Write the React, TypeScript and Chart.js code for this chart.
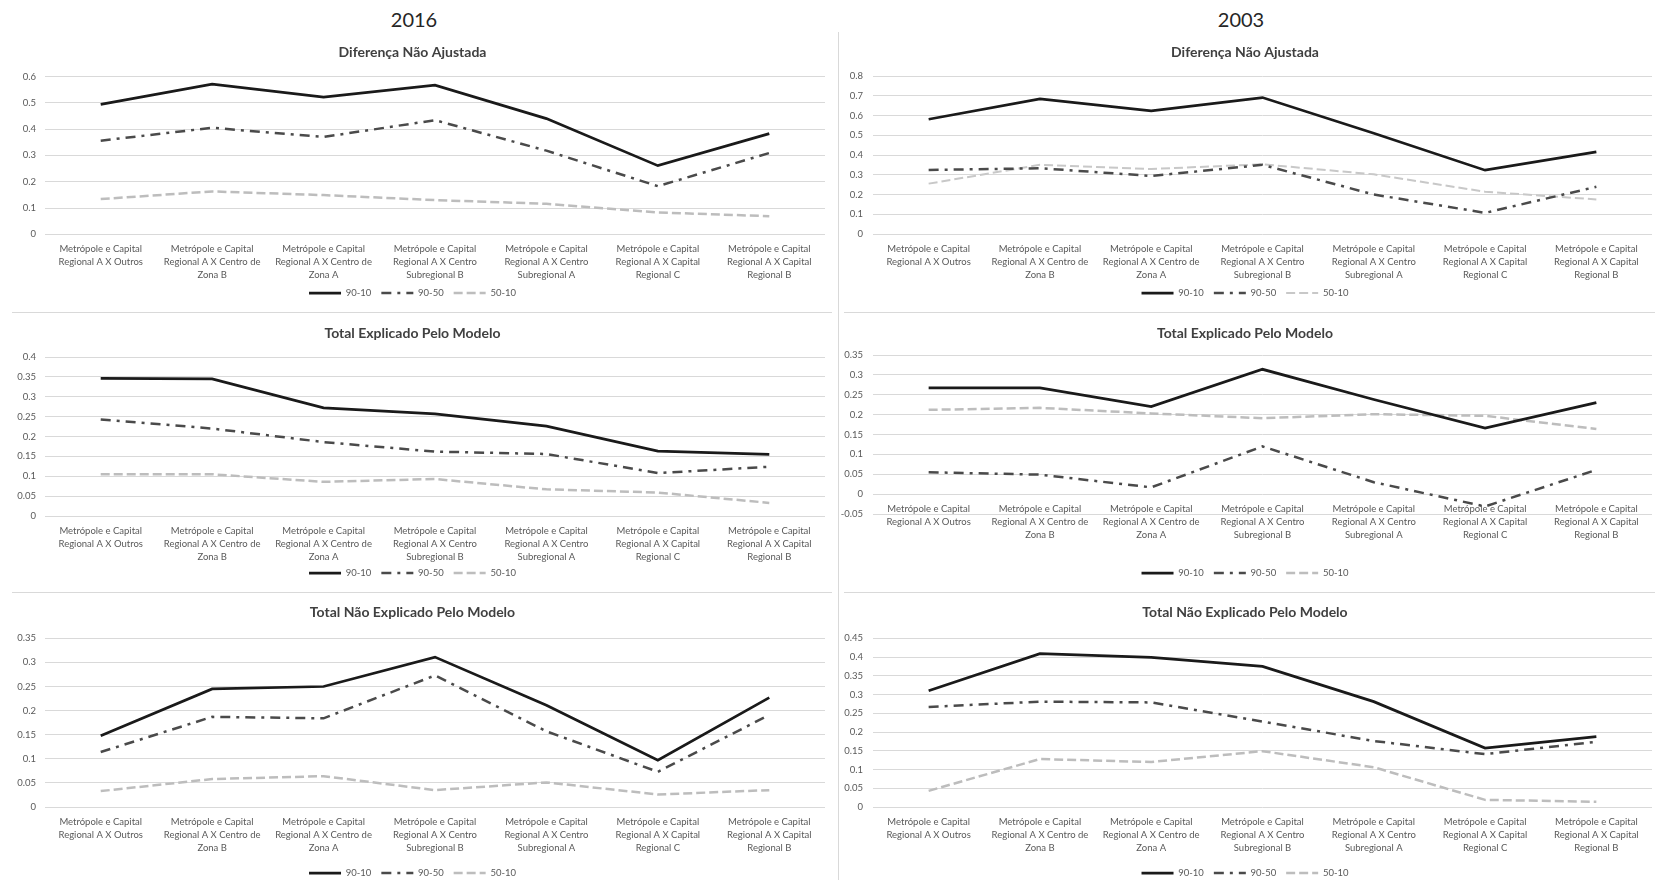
import React, { useEffect, useRef } from "react";
import { Chart, registerables } from "chart.js";
Chart.register(...registerables);

// ---------- data ----------
const categories: string[][] = [
  ["Metrópole e Capital", "Regional A X Outros"],
  ["Metrópole e Capital", "Regional A X Centro de", "Zona B"],
  ["Metrópole e Capital", "Regional A X Centro de", "Zona A"],
  ["Metrópole e Capital", "Regional A X Centro", "Subregional B"],
  ["Metrópole e Capital", "Regional A X Centro", "Subregional A"],
  ["Metrópole e Capital", "Regional A X Capital", "Regional C"],
  ["Metrópole e Capital", "Regional A X Capital", "Regional B"],
];
const seriesNames = ["90-10", "90-50", "50-10"];
const yearTitles = ["2016", "2003"];
const panelTitles = ["Diferença Não Ajustada", "Total Explicado Pelo Modelo", "Total Não Explicado Pelo Modelo"];

// 2016 - Diferença Não Ajustada
const s9010_2016_dif = [0.494, 0.571, 0.522, 0.567, 0.44, 0.261, 0.383];
const s9050_2016_dif = [0.356, 0.405, 0.37, 0.434, 0.318, 0.183, 0.309];
const s5010_2016_dif = [0.134, 0.163, 0.149, 0.13, 0.116, 0.083, 0.069];
// 2003 - Diferença Não Ajustada
const s9010_2003_dif = [0.581, 0.684, 0.623, 0.691, 0.51, 0.323, 0.416];
const s9050_2003_dif = [0.324, 0.333, 0.294, 0.35, 0.2, 0.107, 0.239];
const s5010_2003_dif = [0.255, 0.35, 0.329, 0.353, 0.302, 0.214, 0.175];
// 2016 - Total Explicado
const s9010_2016_exp = [0.346, 0.345, 0.272, 0.257, 0.226, 0.163, 0.155];
const s9050_2016_exp = [0.243, 0.22, 0.186, 0.162, 0.156, 0.108, 0.124];
const s5010_2016_exp = [0.105, 0.105, 0.086, 0.093, 0.067, 0.059, 0.033];
// 2003 - Total Explicado
const s9010_2003_exp = [0.267, 0.267, 0.22, 0.314, 0.238, 0.166, 0.23];
const s9050_2003_exp = [0.055, 0.049, 0.017, 0.12, 0.03, -0.031, 0.061];
const s5010_2003_exp = [0.212, 0.217, 0.203, 0.191, 0.201, 0.197, 0.164];
// 2016 - Total Não Explicado
const s9010_2016_nexp = [0.148, 0.245, 0.25, 0.311, 0.211, 0.097, 0.227];
const s9050_2016_nexp = [0.114, 0.187, 0.184, 0.273, 0.157, 0.073, 0.191];
const s5010_2016_nexp = [0.033, 0.058, 0.064, 0.035, 0.051, 0.026, 0.035];
// 2003 - Total Não Explicado
const s9010_2003_nexp = [0.31, 0.409, 0.399, 0.375, 0.281, 0.157, 0.188];
const s9050_2003_nexp = [0.267, 0.281, 0.279, 0.228, 0.176, 0.141, 0.174];
const s5010_2003_nexp = [0.043, 0.128, 0.12, 0.149, 0.106, 0.019, 0.014];

// y axis ranges: [min, max, step]
const yRange_2016_dif = [0, 0.6, 0.1];
const yRange_2003_dif = [0, 0.8, 0.1];
const yRange_2016_exp = [0, 0.4, 0.05];
const yRange_2003_exp = [-0.05, 0.35, 0.05];
const yRange_2016_nexp = [0, 0.35, 0.05];
const yRange_2003_nexp = [0, 0.45, 0.05];

// ---------- layout / style ----------
const FONT = "Lato, 'Open Sans', sans-serif";
const cols = [
  { left: 0, width: 838, yWidth: 45, padRight: 13, tickPad: 9 },
  { left: 838, width: 817, yWidth: 35, padRight: 3, tickPad: 10 },
];
const rows = [
  { top: 30, height: 282, tPadTop: 13.9, tPadBottom: 15.8, spacer: 44, padBottom: 4.2 },
  { top: 312, height: 280, tPadTop: 12.6, tPadBottom: 15.6, spacer: 42.25, padBottom: 4.25 },
  { top: 592, height: 296, tPadTop: 11.9, tPadBottom: 17.6, spacer: 51.25, padBottom: 0.25 },
];

type PanelProps = {
  title: string;
  s1: number[];
  s2: number[];
  s3: number[];
  yRange: number[];
  col: number;
  row: number;
  spacerAdj?: number;
  tPadAdj?: number;
  lightTop?: boolean;
};

function Panel(p: PanelProps) {
  const ref = useRef<HTMLCanvasElement>(null);
  const c = cols[p.col];
  const r = rows[p.row];
  useEffect(() => {
    const tickFont = { family: FONT, size: 9.5 };
    const spacer = r.spacer + (p.spacerAdj || 0);
    const chart = new Chart(ref.current as HTMLCanvasElement, {
      type: "line",
      data: {
        labels: categories,
        datasets: [
          {
            label: seriesNames[0],
            data: p.s1,
            borderColor: "#1a1a1a",
            backgroundColor: "#1a1a1a",
            borderWidth: 2.75,
            pointRadius: 0,
            tension: 0,
            fill: false,
          },
          {
            label: seriesNames[1],
            data: p.s2,
            borderColor: "#4a4a4a",
            backgroundColor: "#4a4a4a",
            borderWidth: 2.5,
            borderDash: [10, 6, 3, 6],
            pointRadius: 0,
            tension: 0,
            fill: false,
          },
          {
            label: seriesNames[2],
            data: p.s3,
            borderColor: p.lightTop ? "#c8c8c8" : "#bdbdbd",
            backgroundColor: "#bdbdbd",
            borderWidth: p.lightTop ? 2 : 2.5,
            borderDash: [9, 4],
            pointRadius: 0,
            tension: 0,
            fill: false,
          },
        ],
      },
      options: {
        responsive: false,
        maintainAspectRatio: false,
        animation: false,
        layout: { padding: { left: 0, right: c.padRight, top: 0, bottom: r.padBottom } },
        plugins: {
          title: {
            display: true,
            text: p.title,
            color: "#404040",
            font: { family: FONT, size: 14, weight: "bold" },
            padding: { top: r.tPadTop, bottom: r.tPadBottom + (p.tPadAdj || 0) },
          },
          legend: {
            position: "bottom",
            labels: {
              usePointStyle: true,
              pointStyle: "line",
              pointStyleWidth: 32,
              color: "#595959",
              font: tickFont,
              padding: 10,
              generateLabels: (ch: any) => {
                const items = (Chart.defaults.plugins.legend.labels as any).generateLabels(ch);
                items.forEach((it: any, i: number) => {
                  const ds: any = ch.data.datasets[i];
                  it.lineDash = ds.borderDash || [];
                  it.lineWidth = ds.borderWidth;
                  it.strokeStyle = ds.borderColor;
                  it.pointStyle = "line";
                });
                return items;
              },
            },
            title: {
              display: true,
              text: "",
              font: { size: 1, lineHeight: 1 },
              padding: { top: spacer - 1, bottom: 0 },
            },
          },
          tooltip: { enabled: false },
        },
        scales: {
          x: {
            type: "category",
            offset: true,
            position: { y: 0 } as any,
            grid: { display: false, drawTicks: false },
            border: { display: false },
            ticks: {
              autoSkip: false,
              maxRotation: 0,
              minRotation: 0,
              padding: 8,
              color: "#595959",
              font: { family: FONT, size: 9.5, lineHeight: 1.37 },
            },
          },
          y: {
            min: p.yRange[0],
            max: p.yRange[1],
            grid: { color: "#d9d9d9", lineWidth: 1, drawTicks: false },
            border: { display: false },
            ticks: {
              stepSize: p.yRange[2],
              padding: c.tickPad,
              color: "#595959",
              font: tickFont,
              callback: (v: any) => Number(Number(v).toFixed(2)).toString(),
            },
            afterFit: (s: any) => {
              s.width = c.yWidth;
            },
          },
        },
      } as any,
    });
    return () => chart.destroy();
  }, []);
  return (
    <canvas
      ref={ref}
      width={c.width}
      height={r.height}
      style={{ position: "absolute", left: c.left, top: r.top, width: c.width, height: r.height }}
    />
  );
}

const lineStyle = (s: React.CSSProperties): React.CSSProperties => ({
  position: "absolute",
  background: "#d9d9d9",
  ...s,
});

export default function App() {
  return (
    <div
      style={{
        position: "fixed",
        left: 0,
        top: 0,
        width: 1655,
        height: 880,
        overflow: "hidden",
        background: "#ffffff",
        fontFamily: FONT,
      }}
    >
      <div style={{ position: "absolute", left: 364, top: 6, width: 100, textAlign: "center", fontSize: 20, lineHeight: "26px", color: "#262626" }}>
        {yearTitles[0]}
      </div>
      <div style={{ position: "absolute", left: 1191, top: 6, width: 100, textAlign: "center", fontSize: 20, lineHeight: "26px", color: "#262626" }}>
        {yearTitles[1]}
      </div>
      <div style={lineStyle({ left: 838, top: 32, width: 1, height: 848 })} />
      <div style={lineStyle({ left: 12, top: 312, width: 820, height: 1 })} />
      <div style={lineStyle({ left: 844, top: 312, width: 811, height: 1 })} />
      <div style={lineStyle({ left: 12, top: 592, width: 820, height: 1 })} />
      <div style={lineStyle({ left: 844, top: 592, width: 811, height: 1 })} />

      <Panel title={panelTitles[0]} s1={s9010_2016_dif} s2={s9050_2016_dif} s3={s5010_2016_dif} yRange={yRange_2016_dif} col={0} row={0} />
      <Panel title={panelTitles[0]} s1={s9010_2003_dif} s2={s9050_2003_dif} s3={s5010_2003_dif} yRange={yRange_2003_dif} col={1} row={0} lightTop tPadAdj={-0.5} spacerAdj={0.3} />
      <Panel title={panelTitles[1]} s1={s9010_2016_exp} s2={s9050_2016_exp} s3={s5010_2016_exp} yRange={yRange_2016_exp} col={0} row={1} />
      <Panel title={panelTitles[1]} s1={s9010_2003_exp} s2={s9050_2003_exp} s3={s5010_2003_exp} yRange={yRange_2003_exp} col={1} row={1} tPadAdj={-2} spacerAdj={2} />
      <Panel title={panelTitles[2]} s1={s9010_2016_nexp} s2={s9050_2016_nexp} s3={s5010_2016_nexp} yRange={yRange_2016_nexp} col={0} row={2} />
      <Panel title={panelTitles[2]} s1={s9010_2003_nexp} s2={s9050_2003_nexp} s3={s5010_2003_nexp} yRange={yRange_2003_nexp} col={1} row={2} />
    </div>
  );
}
